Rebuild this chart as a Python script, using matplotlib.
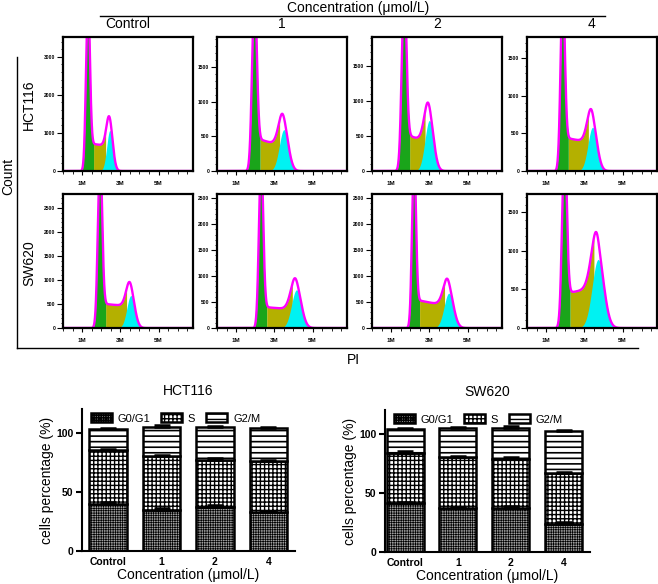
import numpy as np
import matplotlib
matplotlib.use('Agg')
import matplotlib.pyplot as plt
from matplotlib.ticker import MultipleLocator
from matplotlib.lines import Line2D

plt.rcParams['font.family'] = ['Liberation Sans', 'DejaVu Sans']

W, H = 658, 584

# ---- flow cytometry histograms (rows: cell line, cols: concentration)
cellLines = ['HCT116', 'SW620']
concLabels = ['Control', '1', '2', '4']
# G0/G1 peak: position (M), count at top, width (M)
g1Pos = [[1.30, 1.95, 1.67, 1.86], [1.93, 2.30, 2.19, 1.95]]
g1Top = [[4200, 2400, 2400, 2200], [3400, 3100, 3100, 2200]]
g1Sd = [[0.10, 0.12, 0.12, 0.11], [0.11, 0.11, 0.10, 0.12]]
# G2/M peak
g2Pos = [[2.45, 3.50, 3.00, 3.43], [3.55, 4.16, 4.02, 3.72]]
g2Top = [[1390, 770, 920, 765], [900, 910, 880, 1150]]
g2Sd = [[0.16, 0.24, 0.23, 0.24], [0.21, 0.26, 0.25, 0.31]]
# S phase level next to G1 and next to G2
sLeft = [[730, 480, 530, 450], [510, 410, 550, 450]]
sRight = [[650, 350, 400, 370], [450, 350, 420, 520]]
# axis ranges
yMax = [[3520, 1930, 1910, 1780], [2790, 2580, 2580, 1740]]
yStep = [[1000, 500, 500, 500], [500, 500, 500, 500]]
piTicks = [1, 3, 5]
piTickLabels = ['1M', '3M', '5M']

# ---- cell cycle distribution (%)
barCats = ['Control', '1', '2', '4']
phases = ['G0/G1', 'S', 'G2/M']
hctG1 = [40, 35, 37, 33]
hctS = [45, 45, 40, 43]
hctG2 = [18, 25, 28, 28]
hctErr = [[1.5, 1.2, 1.5, 1.2], [1.2, 1.5, 1.5, 1.0], [1.0, 1.5, 1.0, 1.0]]
swG1 = [41, 37, 37, 24]
swS = [43, 43, 42, 43]
swG2 = [20, 25, 26, 35]
swErr = [[1.2, 1.2, 1.5, 1.5], [1.2, 1.0, 1.5, 1.0], [1.0, 1.0, 1.2, 1.5]]

fig = plt.figure(figsize=(W / 100, H / 100), dpi=100)


def box(l, t, w, h):
    return [l / W, 1 - (t + h) / H, w / W, h / H]


def fxy(x, y):
    return x / W, 1 - y / H


def hline(x0, x1, y, lw=1.0):
    fig.add_artist(Line2D([x0 / W, x1 / W], [1 - y / H, 1 - y / H],
                          transform=fig.transFigure, color='black', lw=lw))


def vline(x, y0, y1, lw=1.0):
    fig.add_artist(Line2D([x / W, x / W], [1 - y0 / H, 1 - y1 / H],
                          transform=fig.transFigure, color='black', lw=lw))


colLeft = [63, 217, 372, 527]
rowTop = [37, 194]
x = np.linspace(0, 6.8, 1361)

for r in range(2):
    for c in range(4):
        ax = fig.add_axes(box(colLeft[c], rowTop[r], 130, 134))
        c1, c2 = g1Pos[r][c], g2Pos[r][c]
        g1 = g1Top[r][c] * np.exp(-0.5 * ((x - c1) / g1Sd[r][c]) ** 2)
        up = 1 / (1 + np.exp(-(x - c1) / 0.04))
        down = 1 / (1 + np.exp((x - c2) / 0.08))
        frac = np.clip((x - c1) / (c2 - c1), 0, 1)
        s = (sLeft[r][c] + (sRight[r][c] - sLeft[r][c]) * frac) * up * down
        g2 = (g2Top[r][c] - 0.5 * sRight[r][c]) * np.exp(-0.5 * ((x - c2) / g2Sd[r][c]) ** 2)
        env = g1 + s + g2

        cut1 = c1 + 0.3
        cut2 = c2 - 0.22
        ax.fill_between(x, 0, env, where=(x >= cut1) & (x <= cut2), color='#b4b000', lw=0, zorder=1)
        ax.fill_between(x, 0, env, where=(x <= cut1), color='#1aa51a', lw=0, zorder=1.1)
        ax.fill_between(x, 0, g2, where=g2 > 2, color='#00f2f2', lw=0, zorder=1.2)
        ax.plot(x, env, color='#ff00ff', lw=1.7, zorder=2)

        ax.set_xlim(0, 6.8)
        ax.set_ylim(0, yMax[r][c])
        ax.set_xticks(piTicks)
        ax.set_xticklabels(piTickLabels)
        ax.xaxis.set_minor_locator(MultipleLocator(0.5))
        ax.yaxis.set_major_locator(MultipleLocator(yStep[r][c]))
        ax.yaxis.set_minor_locator(MultipleLocator(yStep[r][c] / 5))
        ax.tick_params(axis='x', which='major', labelsize=4.5, length=3, width=0.8, pad=4)
        ax.tick_params(axis='y', which='major', labelsize=3.6, length=4, width=0.8, pad=1.5)
        ax.tick_params(which='minor', length=1.8, width=0.6)
        for lab in ax.get_xticklabels() + ax.get_yticklabels():
            lab.set_fontweight('bold')
        for sp in ax.spines.values():
            sp.set_linewidth(1.6)

# headers and brackets round the histogram grid
fig.text(*fxy(358, 8), 'Concentration (μmol/L)', ha='center', va='center', fontsize=10)
hline(100, 605, 16)
for c in range(4):
    fig.text(*fxy(colLeft[c] + 65, 24), concLabels[c], ha='center', va='center', fontsize=10)
fig.text(*fxy(29, 105), cellLines[0], rotation=90, ha='center', va='center', fontsize=10)
fig.text(*fxy(29, 263), cellLines[1], rotation=90, ha='center', va='center', fontsize=10)
fig.text(*fxy(8, 176), 'Count', rotation=90, ha='center', va='center', fontsize=10)
vline(17, 57, 348)
hline(17, 638, 348)
fig.text(*fxy(353, 360), 'PI', ha='center', va='center', fontsize=10)

# ---- stacked bar charts
barData = [(cellLines[0], hctG1, hctS, hctG2, hctErr, box(82, 409, 213, 142), -0.49),
           (cellLines[1], swG1, swS, swG2, swErr, box(385, 410, 205, 142), -0.38)]
hatches = ['+++++++', '++++', '---']
hatchLw = [0.5, 1.0, 1.2]
faces = ['#a0a0a0', 'white', 'white']
ind = np.arange(len(barCats))

for title, p1, p2, p3, err, pos, xleft in barData:
    ax = fig.add_axes(pos)
    bottom = np.zeros(len(barCats))
    handles = []
    for k, vals in enumerate([p1, p2, p3]):
        with plt.rc_context({'hatch.linewidth': hatchLw[k]}):
            b = ax.bar(ind, vals, 0.7, bottom=bottom, color=faces[k], edgecolor='black',
                       hatch=hatches[k], lw=1.8, label=phases[k], zorder=2)
        handles.append(b)
        bottom = bottom + np.array(vals)
        ax.errorbar(ind, bottom, yerr=[np.zeros(len(barCats)), err[k]], fmt='none',
                    ecolor='black', elinewidth=1.6, capsize=6, capthick=1.8, zorder=3)
    ax.set_xlim(xleft, 3.5)
    ax.set_ylim(0, 120)
    ax.set_yticks([0, 50, 100])
    ax.set_xticks(ind)
    ax.set_xticklabels(barCats)
    ax.tick_params(axis='both', labelsize=7.5, width=1.5, length=4, pad=2)
    ax.tick_params(axis='x', length=0, pad=4)
    for lab in ax.get_xticklabels() + ax.get_yticklabels():
        lab.set_fontweight('bold')
    ax.spines['top'].set_visible(False)
    ax.spines['right'].set_visible(False)
    ax.spines['left'].set_linewidth(1.5)
    ax.spines['bottom'].set_linewidth(1.5)
    ax.set_title(title, fontsize=10, pad=10)
    ax.set_ylabel('cells percentage (%)', fontsize=10, labelpad=2)
    ax.set_xlabel('Concentration (μmol/L)', fontsize=10, labelpad=1)
    ax.legend(handles=handles, loc='upper left', bbox_to_anchor=(0.02, 1.0), ncol=3,
              frameon=False, fontsize=8, handlelength=1.9, handleheight=0.8,
              columnspacing=1.0, handletextpad=0.5, borderaxespad=0)

plt.savefig('out.png', dpi=100)
plt.close(fig)
